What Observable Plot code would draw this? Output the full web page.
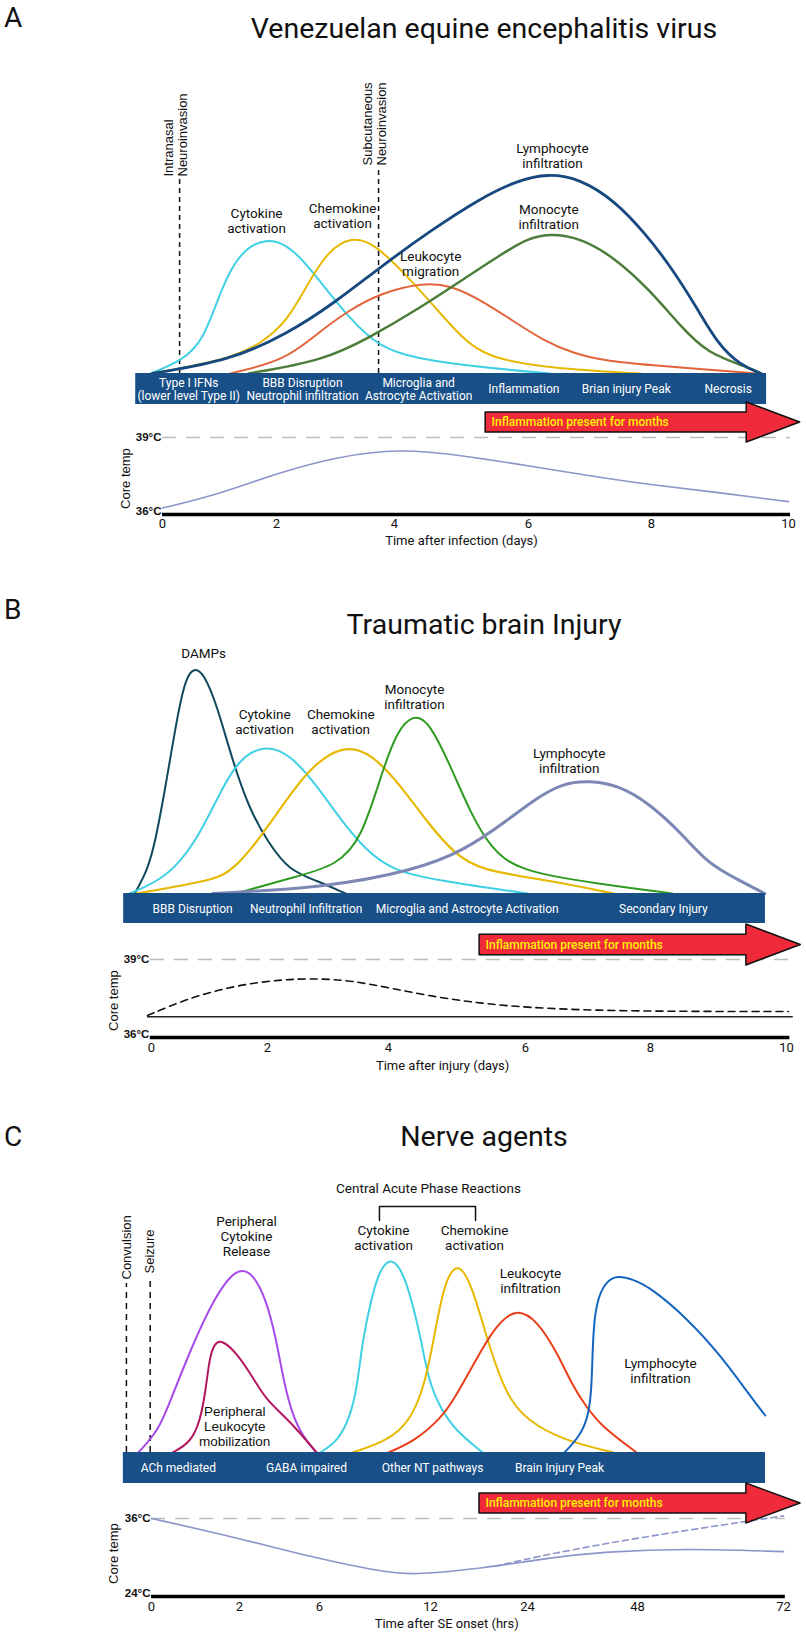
<!DOCTYPE html>
<html><head><meta charset="utf-8">
<script src="https://cdn.jsdelivr.net/npm/d3@7"></script>
<script src="https://cdn.jsdelivr.net/npm/@observablehq/plot@0.6"></script>
<style>
html,body{margin:0;padding:0;background:#fff;}
#page{position:relative;width:806px;height:1637px;overflow:hidden;background:#fff;}
#page svg{position:absolute;left:0;top:0;background:transparent !important;overflow:visible;}
.head{position:absolute;white-space:nowrap;color:#111;font-family:Roboto,sans-serif;line-height:1;}
</style></head><body><div id="page"></div>
<script>
// ================= DATA =================
// ---- Panel A: Venezuelan equine encephalitis virus (x = days after infection, y = relative level)
const titleA = "Venezuelan equine encephalitis virus";
const xTitleA = "Time after infection (days)";
const ticksA = [0, 2, 4, 6, 8, 10];
const aCytokine   = [[-0.21,0],[0.35,6.5],[0.72,16.5],[1.02,41.5],[1.33,60],[1.82,68.5],[2.27,63],[2.69,48],[3.22,28],[3.75,13],[4.31,7.5],[5.31,3],[6.36,0]];
const aChemokine  = [[-0.18,0],[1.1,6.5],[1.74,15],[2.19,26.5],[2.53,45],[2.88,61.5],[3.27,68.5],[3.66,65],[4.15,50],[4.61,33],[5.0,18],[5.37,8],[6.36,2.5],[7.82,0]];
const aLymphocyte = [[-0.18,0],[1.19,6.5],[2.19,20],[2.97,35],[3.75,53],[4.54,71.5],[5.3,88],[5.84,96.5],[6.31,100],[6.83,97.5],[7.4,86.5],[7.9,70],[8.29,53],[8.66,33],[8.96,15],[9.3,4],[9.6,0]];
const aLeukocyte  = [[1.19,0],[2.14,6.5],[2.69,20],[3.22,31.5],[3.75,40],[4.42,45.5],[4.85,44],[5.3,36.5],[5.76,26.5],[6.24,16.5],[6.73,10],[7.24,6.5],[7.82,4.5],[9.55,0]];
const aMonocyte   = [[1.51,0],[2.8,6.5],[3.58,18],[4.39,33],[5.0,46.5],[5.61,60],[5.99,67.5],[6.33,70],[6.83,68],[7.4,58],[7.98,41.5],[8.44,23],[8.82,10],[9.42,3],[9.6,0]];
const aLabels = [
  {text: "Cytokine\nactivation", x: 1.65, y: 76.5},
  {text: "Chemokine\nactivation", x: 3.12, y: 78.8},
  {text: "Leukocyte\nmigration", x: 4.54, y: 54.8},
  {text: "Lymphocyte\ninfiltration", x: 6.39, y: 108.8},
  {text: "Monocyte\ninfiltration", x: 6.33, y: 78.3}
];
const aMarkers = [
  {text: "Intranasal\nNeuroinvasion", x: 0.30, top: 97.5},
  {text: "Subcutaneous\nNeuroinvasion", x: 3.73, top: 103}
];
const aPhases = [
  {text: "Type I IFNs\n(lower level Type II)", x: 0.46},
  {text: "BBB Disruption\nNeutrophil infiltration", x: 2.44},
  {text: "Microglia and\nAstrocyte Activation", x: 4.36},
  {text: "Inflammation", x: 5.93},
  {text: "Brian injury Peak", x: 7.59},
  {text: "Necrosis", x: 9.12}
];
const aBar = [-0.47, 9.68];
const aArrow = {tail: 5.36, base: 9.39, tip: 10.17};
const aTemp = [[0,36.25],[1,36.8],[2,37.6],[3,38.25],[4.1,38.57],[5,38.3],[6,37.9],[7,37.5],[8,37.15],[9,36.85],[10,36.5]];

// ---- Panel B: Traumatic brain injury (x = days after injury)
const titleB = "Traumatic brain Injury";
const xTitleB = "Time after injury (days)";
const ticksB = [0, 2, 4, 6, 8, 10];
const bDamps      = [[-0.29,0],[-0.07,11.5],[0.07,26.5],[0.24,53],[0.47,93],[0.6,108],[0.73,113],[0.91,110],[1.14,93],[1.36,70],[1.67,43],[2.02,25],[2.36,11.5],[2.81,6.5],[3.29,0]];
const bCytokine   = [[-0.38,0],[0.28,8],[0.78,26.5],[1.14,48],[1.48,66.5],[1.93,74.5],[2.36,70],[2.79,55],[3.22,36.5],[3.63,21.5],[4.06,11.5],[4.72,6.5],[6.03,0]];
const bChemokine  = [[-0.26,0],[1.05,6.5],[1.4,11.5],[1.84,26.5],[2.27,45],[2.7,63],[3.25,74.5],[3.73,70],[4.2,53],[4.58,35],[4.96,20],[5.34,11.5],[6.4,6.5],[7.41,0]];
const bMonocyte   = [[1.45,0],[2.55,9],[3.12,14],[3.55,26.5],[3.9,61.5],[4.13,81.5],[4.36,89.5],[4.58,86.5],[4.89,65],[5.2,40],[5.49,23],[5.87,11.5],[7.12,5],[8.32,0]];
const bLymphocyte = [[1.05,0],[2.96,3],[4.37,11.5],[5.11,21.5],[5.73,36.5],[6.19,48],[6.59,55],[7.01,56.5],[7.5,54],[7.98,45],[8.46,30],[8.84,15],[9.31,6.5],[9.68,0]];
const bLabels = [
  {text: "DAMPs", x: 0.90, y: 120},
  {text: "Cytokine\nactivation", x: 1.95, y: 85.8},
  {text: "Chemokine\nactivation", x: 3.21, y: 85.8},
  {text: "Monocyte\ninfiltration", x: 4.38, y: 98.3},
  {text: "Lymphocyte\ninfiltration", x: 6.7, y: 66.3}
];
const bPhases = [
  {text: "BBB Disruption", x: 0.71},
  {text: "Neutrophil Infiltration", x: 2.64},
  {text: "Microglia and Astrocyte Activation", x: 5.15},
  {text: "Secondary Injury", x: 8.19}
];
const bBar = [-0.48, 9.69];
const bArrow = {tail: 5.33, base: 9.41, tip: 10.21};
const bTemp = [[-0.07,36.85],[0.67,37.54],[1.45,38.0],[2.21,38.23],[2.81,38.27],[3.4,38.19],[4.06,37.88],[4.72,37.54],[5.37,37.31],[6.03,37.15],[7.12,37.04],[8.51,37.0],[10.03,37.0]];
const bNormalTemp = 36.8;

// ---- Panel C: Nerve agents (x = hours after SE onset)
const titleC = "Nerve agents";
const xTitleC = "Time after SE onset (hrs)";
const ticksC = [0, 2, 6, 12, 24, 48, 72];
const cPeriphCytokine  = [[-0.3,0],[0.16,11],[0.43,26],[0.91,52.5],[1.39,76],[1.93,93],[2.7,89.5],[3.35,76],[3.85,56],[4.2,36],[4.65,18.5],[5.2,7.5],[5.85,0]];
const cPeriphLeukocyte = [[0.48,0],[0.89,5],[1.11,16],[1.23,31],[1.32,47.5],[1.43,54.5],[1.59,56.5],[1.95,49.5],[2.7,37],[3.35,26],[4.5,16],[5.85,0]];
const cCytokine   = [[6.05,0],[7.03,6],[7.68,18.5],[8.05,33.5],[8.32,56],[8.86,79.5],[9.3,92],[9.84,97],[10.32,93],[10.81,82.5],[11.51,56],[11.89,36],[13.24,22],[15.09,11],[18.43,0]];
const cChemokine  = [[7.78,0],[9.73,6],[10.92,16],[11.68,33.5],[12.37,56],[13.73,86],[15.46,96],[17.2,82.5],[18.8,59.5],[20.41,39.5],[21.9,26],[24,16],[31.85,6],[42.76,0]];
const cLeukocyte  = [[9.73,0],[11.19,6],[13.24,17],[14.85,26],[17.57,46],[19.92,62.5],[22.5,72.5],[26.18,66],[30.55,49.5],[33.8,33.5],[36.65,23.5],[39.93,13.5],[47.8,0]];
const cLymphocyte = [[32.07,0],[35.56,8.5],[37.3,18.5],[37.96,31],[38.2,51],[38.6,68.5],[39.7,79.5],[41.45,86],[43.6,88.5],[47.1,86.5],[50.1,82.5],[56.05,67.5],[61.97,47.5],[66.2,29.5],[69.0,18.5]];
const cLabels = [
  {text: "Peripheral\nCytokine\nRelease", x: 2.35, y: 108.3},
  {text: "Cytokine\nactivation", x: 9.46, y: 107.3},
  {text: "Chemokine\nactivation", x: 17.44, y: 107.3},
  {text: "Leukocyte\ninfiltration", x: 24.65, y: 85.8},
  {text: "Lymphocyte\ninfiltration", x: 51.78, y: 41}
];
const cLabelsArial = [{text: "Peripheral\nLeukocyte\nmobilization", x: 1.89, y: 13}];
const cGroup = {text: "Central Acute Phase Reactions", x: 11.89, y: 132, left: 9.24, right: 17.57, top: 123, bottom: 116};
const cMarkers = [
  {text: "Convulsion", x: -0.57, top: 84.5},
  {text: "Seizure", x: -0.03, top: 87.5}
];
const cPhases = [
  {text: "ACh mediated", x: 0.61},
  {text: "GABA impaired", x: 5.35},
  {text: "Other NT pathways", x: 12.25},
  {text: "Brain Injury Peak", x: 30.98}
];
const cBar = [-0.64, 69.04];
const cArrow = {tail: 18.06, base: 65.9, tip: 74.8};
const cTempSolid  = [[0,36],[1.91,33.1],[5.85,29.85],[9.95,27.5],[11.2,27.4],[18.4,28.3],[29,30.0],[40.8,30.9],[55.9,31.4],[72,30.9]];
const cTempDashed = [[20,28.65],[29,30.6],[48.5,33.1],[63.3,35.2],[72,36.4]];

const arrowText = "Inflammation present for months";

// ================= LAYOUT / STYLE =================
const W = 806, H = 1637;
const page = document.getElementById("page");
const F = "Roboto, sans-serif";
const FA = "'Liberation Sans', Arial, sans-serif";
const BAR = "#184f87", RED = "#ee2a3b", TEMP = "#8c95c9";
const X = d => d[0], Y = d => d[1], ID = d => d;
const SMOOTH = "basis";

// piecewise linear time scales matching the hand-placed ticks of each panel
const xA = {type: "linear", domain: ticksA, range: [162, 276, 394, 528, 651, 788]};
const xB = {type: "linear", domain: ticksB, range: [151, 267, 388, 525, 650, 786]};
const xC = {type: "linear", domain: ticksC, range: [151, 239, 319, 430, 527, 637, 783]};

function layer(x, y, marks) {
  const svg = Plot.plot({
    width: W, height: H, margin: 0,
    style: "position:absolute;left:0;top:0;background:transparent;overflow:visible;font-family:Roboto,sans-serif;color:#111;",
    x: {...x, axis: null}, y: {type: "linear", ...y, axis: null},
    marks
  });
  page.appendChild(svg);
}
const curve = (data, stroke, w = 2) => Plot.line(data, {x: X, y: Y, stroke, strokeWidth: w, curve: SMOOTH});
const labels = (data, font = F, size = 13.5) => Plot.text(data, {x: "x", y: "y", text: "text", fontSize: size, lineHeight: 1.12, fontFamily: font, fill: "#111"});

function timeline(x, bar, phases, barY, arrow, arrowY) {
  layer(x, {domain: [0, 1], range: barY}, [
    Plot.rect([bar], {x1: d => d[0], x2: d => d[1], y1: 0, y2: 1, fill: BAR}),
    Plot.text(phases, {x: "x", y: 0.5, text: "text", fill: "white", fontSize: 12, lineHeight: 1.1, fontFamily: F})
  ]);
  const pts = [
    {x: arrow.tail, lo: -0.5, hi: 0.5}, {x: arrow.base, lo: -0.5, hi: 0.5},
    {x: arrow.base, lo: -1, hi: 1}, {x: arrow.tip, lo: 0, hi: 0}
  ];
  return () => layer(x, {domain: [-1, 1], range: arrowY}, [
    Plot.area(pts, {x1: "x", y1: "lo", y2: "hi", fill: RED, stroke: "#111", strokeWidth: 1.5, curve: "linear"}),
    Plot.text([arrowText], {x: arrow.tail, y: 0, text: ID, textAnchor: "start", dx: 6, fill: "#fff200", fontSize: 12, fontWeight: 500, fontFamily: F})
  ]);
}

function tempAxis(ticks, lo, hi, x0, x1, dashAt, xTitle, xTitleAt, coreAt, tickDy, titleDy) {
  return [
    Plot.ruleY([dashAt], {x1: x0, x2: x1, stroke: "#bdbdbd", strokeWidth: 1.5, strokeDasharray: "14,10"}),
    Plot.ruleY([lo], {x1: x0, x2: x1, stroke: "#000", strokeWidth: 3.5}),
    Plot.text([`${hi}°C`], {x: x0, y: hi, text: ID, textAnchor: "end", dx: -1, fontWeight: "bold", fontSize: 11.5, fontFamily: FA, fill: "#111"}),
    Plot.text([`${lo}°C`], {x: x0, y: lo, text: ID, textAnchor: "end", dx: -1, dy: -3, fontWeight: "bold", fontSize: 11.5, fontFamily: FA, fill: "#111"}),
    Plot.text(ticks, {x: ID, y: lo, dy: tickDy, text: d => `${d}`, fontSize: 13, fontFamily: F, fill: "#111"}),
    Plot.text([xTitle], {x: xTitleAt, y: lo, dy: titleDy, text: ID, fontSize: 13, fontFamily: F, fill: "#111"}),
    Plot.text(["Core temp"], {x: coreAt[0], y: coreAt[1], text: ID, rotate: -90, fontSize: 13, fontFamily: FA, fill: "#111"})
  ];
}

// ---- headings (letters and titles)
[["A", titleA, 4, 15], ["B", titleB, 596, 611], ["C", titleC, 1123, 1123]].forEach(([L, T, lt, tt]) => {
  const l = document.createElement("div"); l.className = "head"; l.textContent = L;
  l.style.cssText = `left:4px;top:${lt}px;font-size:28px;`; page.appendChild(l);
  const t = document.createElement("div"); t.className = "head"; t.textContent = T;
  t.style.cssText = `left:484px;top:${tt}px;font-size:28.5px;transform:translateX(-50%);`; page.appendChild(t);
});

// ================= PANEL A =================
const yA = {domain: [0, 100], range: [373, 173]};
layer(xA, yA, [
  Plot.ruleX(aMarkers, {x: "x", y1: 0, y2: "top", stroke: "#111", strokeWidth: 1.5, strokeDasharray: "5,4"}),
  Plot.text(aMarkers, {x: "x", y: "top", text: "text", rotate: -90, textAnchor: "start", dx: -4, dy: -2, fontSize: 13, lineHeight: 1.1, fontFamily: FA, fill: "#111"}),
  curve(aCytokine, "#3fd0e3"),
  curve(aChemokine, "#e6b800"),
  curve(aLeukocyte, "#e2643a"),
  curve(aMonocyte, "#4c7d3a", 2.5),
  curve(aLymphocyte, "#17497f", 2.8),
  labels(aLabels)
]);
const arrowLayerA = timeline(xA, aBar, aPhases, [404, 373], aArrow, [442, 402]);
layer(xA, {domain: [36, 39], range: [514, 437]}, [
  ...tempAxis(ticksA, 36, 39, 0, 10.03, 39, xTitleA, 5, [-0.65, 37.4], 9.5, 26),
  Plot.line(aTemp, {x: X, y: Y, stroke: TEMP, strokeWidth: 1.6, curve: SMOOTH})
]);
arrowLayerA();

// ================= PANEL B =================
const yB = {domain: [0, 100], range: [893, 693]};
layer(xB, yB, [
  curve(bDamps, "#0f4a5c"),
  curve(bCytokine, "#3fd0e3"),
  curve(bChemokine, "#e6b800", 2.2),
  curve(bMonocyte, "#2f9a22"),
  curve(bLymphocyte, "#7c87b6", 3),
  labels(bLabels)
]);
const arrowLayerB = timeline(xB, bBar, bPhases, [923, 893], bArrow, [965, 924]);
layer(xB, {domain: [36, 39], range: [1037, 959]}, [
  ...tempAxis(ticksB, 36, 39, -0.02, 10.05, 39, xTitleB, 4.79, [-0.65, 37.42], 10, 28),
  Plot.ruleY([bNormalTemp], {x1: -0.07, x2: 10.1, stroke: "#222", strokeWidth: 1.5}),
  Plot.line(bTemp, {x: X, y: Y, stroke: "#111", strokeWidth: 1.6, strokeDasharray: "7,5", curve: SMOOTH})
]);
arrowLayerB();

// ================= PANEL C =================
const yC = {domain: [0, 100], range: [1452, 1252]};
layer(xC, yC, [
  Plot.ruleX(cMarkers, {x: "x", y1: 0, y2: "top", stroke: "#111", strokeWidth: 1.5, strokeDasharray: "6,5"}),
  Plot.text(cMarkers, {x: "x", y: "top", text: "text", rotate: -90, textAnchor: "start", dy: -4, fontSize: 13, fontFamily: FA, fill: "#111"}),
  curve(cPeriphCytokine, "#a64bea"),
  curve(cPeriphLeukocyte, "#b3175f"),
  curve(cCytokine, "#3fd0e3"),
  curve(cChemokine, "#e6b800"),
  curve(cLeukocyte, "#ea3e1a"),
  curve(cLymphocyte, "#1565c0"),
  labels(cLabels),
  labels(cLabelsArial, FA, 13.5),
  Plot.line([[cGroup.left, cGroup.bottom], [cGroup.left, cGroup.top], [cGroup.right, cGroup.top], [cGroup.right, cGroup.bottom]],
    {x: X, y: Y, stroke: "#111", strokeWidth: 1.5, curve: "linear"}),
  Plot.text([cGroup], {x: "x", y: "y", text: "text", fontSize: 13.5, fontFamily: F, fill: "#111"})
]);
const arrowLayerC = timeline(xC, cBar, cPhases, [1483, 1452], cArrow, [1523, 1483]);
layer(xC, {domain: [24, 36], range: [1596, 1518]}, [
  ...tempAxis(ticksC, 24, 36, 0, 72.3, 36, xTitleC, 14, [-0.85, 30.6], 10, 27),
  Plot.line(cTempDashed, {x: X, y: Y, stroke: TEMP, strokeWidth: 1.6, strokeDasharray: "6,4", curve: SMOOTH}),
  Plot.line(cTempSolid, {x: X, y: Y, stroke: TEMP, strokeWidth: 1.6, curve: SMOOTH})
]);
arrowLayerC();
</script></body></html>
